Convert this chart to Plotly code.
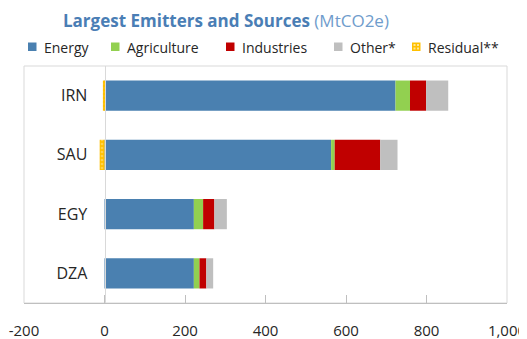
import plotly.graph_objects as go

countries = ["IRN", "SAU", "EGY", "DZA"]
energy = [723, 563, 222, 222]
agriculture = [36, 9, 23, 14]
industries = [40, 113, 28, 17]
other = [55, 43, 31, 17]
residual = [-4, -12, 0, 0]

series_names = ["Energy", "Agriculture", "Industries", "Other*", "Residual**"]
series_colors = ["#4a80b0", "#92d050", "#c00000", "#bfbfbf", "#ffc000"]

x_tickvals = [-200, 0, 200, 400, 600, 800, 1000]
x_ticktext = ["-200", "0", "200", "400", "600", "800", "1,000"]

FONT = "Open Sans"
TXT = "#262626"
OFF = 8  # page body margin offset
W, H = 527 - OFF, 339 - OFF
PL, PR, PT, PB = 24, 507, 66, 303  # plot area in window pixels
ML, MR, MT, MB = PL - OFF, W - (PR - OFF), PT - OFF, H - (PB - OFF)
PW, PH = W - ML - MR, H - MT - MB

fig = go.Figure()
values = [energy, agriculture, industries, other, residual]
for name, vals, col in zip(series_names, values, series_colors):
    marker = dict(color=col, line=dict(width=0))
    if name.startswith("Residual"):
        marker["pattern"] = dict(shape=".", fgcolor="#ffe699", bgcolor=col, size=4, solidity=0.35)
    fig.add_trace(go.Bar(y=countries, x=vals, name=name, orientation="h",
                         marker=marker, showlegend=False))


def px_to_paper(xp, yp):
    # window pixel -> paper coords
    return (xp - PL) / PW, (PB - yp) / PH


icon_left = [28, 111, 226, 334, 412]
shapes = []
annotations = []
for name, col, xl in zip(series_names, series_colors, icon_left):
    x0, y0 = px_to_paper(xl, 51)
    x1, y1 = px_to_paper(xl + 8.5, 42.5)
    shapes.append(dict(type="rect", xref="paper", yref="paper", x0=x0, x1=x1, y0=y0, y1=y1,
                       fillcolor=col, line=dict(width=0), layer="above"))
    if name.startswith("Residual"):
        for dx in (1.5, 5):
            for dy in (1.5, 5):
                a0, b0 = px_to_paper(xl + dx, 42.5 + dy + 2)
                a1, b1 = px_to_paper(xl + dx + 2, 42.5 + dy)
                shapes.append(dict(type="rect", xref="paper", yref="paper", x0=a0, x1=a1, y0=b0, y1=b1,
                                   fillcolor="#ffe699", line=dict(width=0), layer="above"))
    tx, ty = px_to_paper(xl + 14, 47)
    annotations.append(dict(text=name, xref="paper", yref="paper", x=tx, y=ty,
                            xanchor="left", yanchor="middle", showarrow=False,
                            font=dict(family=FONT, size=14, color=TXT)))

shapes.append(dict(type="rect", xref="paper", yref="paper", x0=0, x1=1, y0=0, y1=1,
                   line=dict(color="#d9d9d9", width=1), layer="below"))

fig.update_layout(
    width=W, height=H,
    barmode="relative",
    bargap=0.49,
    showlegend=False,
    plot_bgcolor="white", paper_bgcolor="white",
    margin=dict(l=ML, r=MR, t=MT, b=MB, autoexpand=False),
    font=dict(family=FONT, size=15, color=TXT),
    title=dict(
        text="<b>Largest Emitters and Sources</b> <span style='color:#6f9ccc;font-weight:normal'>(MtCO2e)</span>",
        font=dict(family=FONT, size=17, color="#4a7eb5"),
        x=(63 - OFF) / W, xanchor="left", xref="container",
        y=1 - 13 / H, yanchor="middle", yref="container",
    ),
    xaxis=dict(
        range=[-200, 1000],
        tickvals=x_tickvals, ticktext=x_ticktext,
        showgrid=False, zeroline=False,
        showline=True, linecolor="#bfbfbf", linewidth=1,
        ticks="inside", ticklen=8, tickcolor="#bfbfbf",
        ticklabelstandoff=14,
        tickfont=dict(size=15, color=TXT),
        automargin=False, fixedrange=True,
    ),
    yaxis=dict(
        autorange="reversed",
        anchor="free", position=200 / 1200,
        showgrid=False, zeroline=False,
        showline=True, linecolor="#d9d9d9", linewidth=1,
        ticks="", ticklabelstandoff=14,
        tickfont=dict(size=16, color=TXT),
        automargin=False, fixedrange=True,
    ),
    shapes=shapes,
    annotations=annotations,
)

fig.write_html("out.html")
